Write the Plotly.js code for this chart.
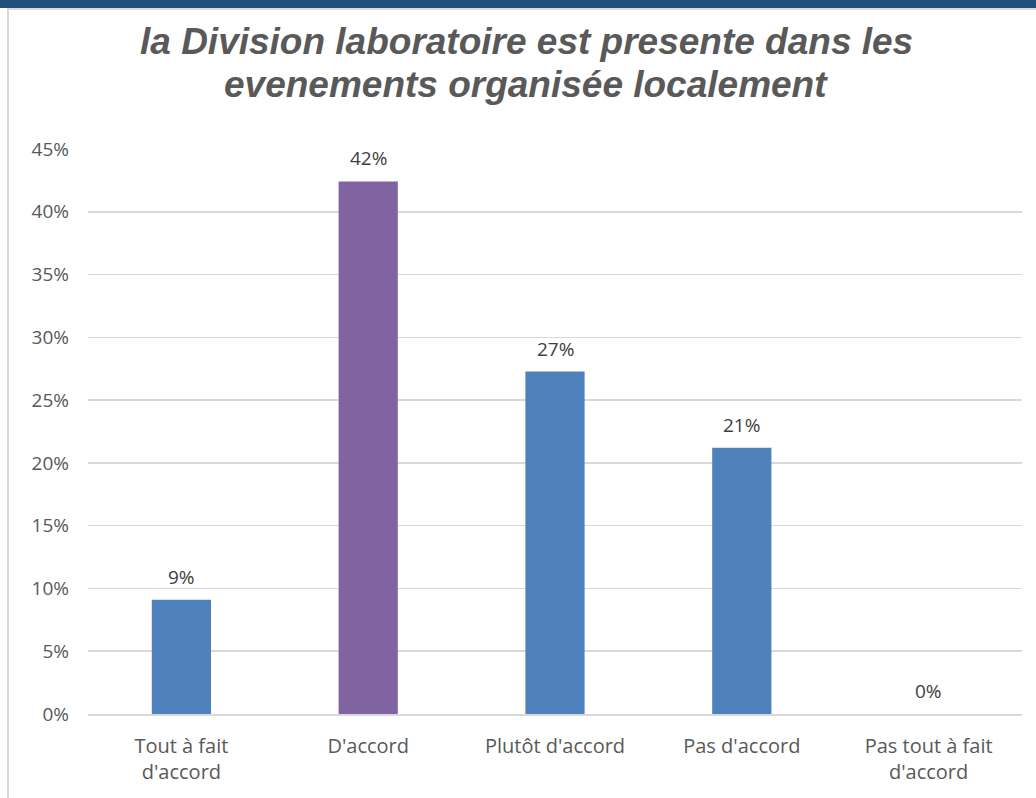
<!DOCTYPE html>
<html>
<head>
<meta charset="utf-8">
<script src="https://cdn.plot.ly/plotly-3.0.1.min.js"></script>
<style>
  html, body { margin: 0; padding: 0; background: #ffffff; }
  #wrap { position: relative; width: 1036px; height: 798px; overflow: hidden; }
  #band { position: absolute; left: 0; top: 0; width: 1036px; height: 8px; background: #214f7a; }
  #topline { position: absolute; left: 7px; top: 8px; width: 1029px; height: 2px; background: #d9d9d9; }
  #leftline { position: absolute; left: 7px; top: 8px; width: 2px; height: 790px; background: #d9d9d9; }
  #chart { position: absolute; left: 0; top: 0; width: 1036px; height: 798px; }
</style>
</head>
<body>
<div id="wrap">
  <div id="chart"></div>
  <div id="band"></div>
  <div id="topline"></div>
  <div id="leftline"></div>
</div>
<script>
const categories = ["Tout à fait<br>d'accord", "D'accord", "Plutôt d'accord", "Pas d'accord", "Pas tout à fait<br>d'accord"];
const values = [0.0909, 0.4242, 0.2727, 0.2121, 0];
const labels = ["9%", "42%", "27%", "21%", "0%"];
const barColors = ["#4f81bd", "#8064a2", "#4f81bd", "#4f81bd", "#4f81bd"];
const tickVals = [0, 0.05, 0.10, 0.15, 0.20, 0.25, 0.30, 0.35, 0.40, 0.45];
const tickText = ["0%", "5%", "10%", "15%", "20%", "25%", "30%", "35%", "40%", "45%"];
const titleLines = ['la Division laboratoire est presente dans les', 'evenements organisée localement'];

const FONT = 'Open Sans, Noto Sans, sans-serif';

const trace = {
  type: 'bar',
  x: categories,
  y: values,
  marker: { color: barColors },
  hoverinfo: 'skip'
};

const dataLabels = categories.map((c, i) => ({
  x: c,
  y: values[i],
  xref: 'x',
  yref: 'y',
  text: labels[i],
  showarrow: false,
  yanchor: 'bottom',
  yshift: 8,
  font: { family: FONT, size: 19, color: '#404040' }
}));

const titleY = [1.191, 1.1133];
const titleAnns = titleLines.map((t, i) => ({
  xref: 'paper', yref: 'paper',
  x: 0.469, y: titleY[i],
  xanchor: 'center', yanchor: 'middle',
  text: '<b><i>' + t + '</i></b>',
  showarrow: false,
  align: 'center',
  font: { family: 'Liberation Sans, Arial, sans-serif', size: 37, color: '#595959' }
}));

const layout = {
  width: 1036,
  height: 798,
  paper_bgcolor: 'rgba(0,0,0,0)',
  plot_bgcolor: 'rgba(0,0,0,0)',
  margin: { l: 88, r: 14, t: 149, b: 84 },
  bargap: 0.683,
  showlegend: false,
  annotations: titleAnns.concat(dataLabels),
  xaxis: {
    type: 'category',
    showgrid: false,
    showline: true,
    linecolor: '#d9d9d9',
    linewidth: 1.5,
    ticks: '',
    ticklabelstandoff: 13,
    tickfont: { family: FONT, size: 20, color: '#595959' },
    fixedrange: true
  },
  yaxis: {
    range: [0, 0.45],
    tickvals: tickVals,
    ticktext: tickText,
    showgrid: true,
    gridcolor: '#d9d9d9',
    gridwidth: 1.5,
    zeroline: false,
    showline: false,
    ticks: '',
    ticklabelstandoff: 18,
    tickfont: { family: FONT, size: 19, color: '#595959' },
    fixedrange: true
  }
};

Plotly.newPlot('chart', [trace], layout, { displayModeBar: false, staticPlot: true });
</script>
</body>
</html>
